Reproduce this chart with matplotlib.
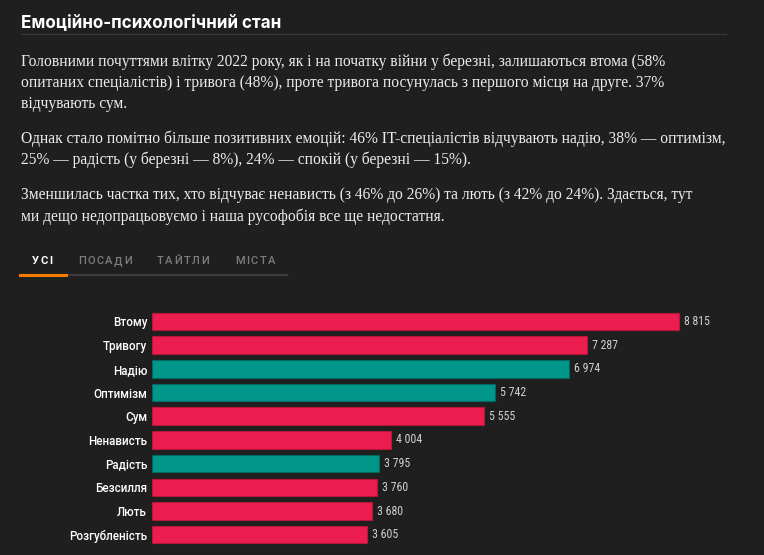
import matplotlib
matplotlib.use("Agg")
import matplotlib.pyplot as plt
from matplotlib.lines import Line2D

# Дані з графіка
categories = ["Втому", "Тривогу", "Надію", "Оптимізм", "Сум",
              "Ненависть", "Радість", "Безсилля", "Лють", "Розгубленість"]
values = [8815, 7287, 6974, 5742, 5555, 4004, 3795, 3760, 3680, 3605]
positive = [False, False, True, True, False, False, True, False, False, False]

title = "Емоційно-психологічний стан"
paragraphs = [
    ["Головними почуттями влітку 2022 року, як і на початку війни у березні, залишаються втома (58%",
     "опитаних спеціалістів) і тривога (48%), проте тривога посунулась з першого місця на друге. 37%",
     "відчувають сум."],
    ["Однак стало помітно більше позитивних емоцій: 46% IT-спеціалістів відчувають надію, 38% — оптимізм,",
     "25% — радість (у березні — 8%), 24% — спокій (у березні — 15%)."],
    ["Зменшилась частка тих, хто відчуває ненависть (з 46% до 26%) та лють (з 42% до 24%). Здається, тут",
     "ми дещо недопрацьовуємо і наша русофобія все ще недостатня."],
]
tabs = ["УСІ", "ПОСАДИ", "ТАЙТЛИ", "МІСТА"]

BG = "#1f1f1f"
RED = "#eb1e4f"
TEAL = "#00968a"
W, H = 764, 555

fig = plt.figure(figsize=(W / 100, H / 100), dpi=100, facecolor=BG)


def px(x, y):
    return x / W, 1 - y / H


# Заголовок і лінія під ним
fig.text(*px(21, 27), title, color="white", fontsize=12.3, fontweight="bold",
         family=["Inter", "DejaVu Sans"], va="baseline")
fig.add_artist(Line2D([21 / W, 726 / W], [1 - 33.5 / H] * 2, color="#3a3a3a", lw=0.8))

# Текст
baselines = [[66, 87, 108], [143, 164], [199, 221]]
for lines, ys in zip(paragraphs, baselines):
    for line, y in zip(lines, ys):
        fig.text(*px(21, y), line, color="#ececec", fontsize=11.2,
                 family=["Liberation Serif", "DejaVu Serif"], va="baseline")

# Вкладки з розрядкою
renderer = fig.canvas.get_renderer()


def spaced(x, y, s, spacing, **kw):
    for ch in s:
        t = fig.text(*px(x, y), ch, va="center", **kw)
        bb = t.get_window_extent(renderer)
        x += bb.width + spacing
    return x


tab_x = [32, 78, 157, 235]
for i, (name, x) in enumerate(zip(tabs, tab_x)):
    spaced(x, 261, name, 1.5, fontsize=8.0, family=["Roboto", "DejaVu Sans"],
           fontweight="bold" if i == 0 else "medium",
           color="white" if i == 0 else "#7d7d7d")
fig.add_artist(Line2D([20 / W, 287 / W], [1 - 274.5 / H] * 2, color="#3c3c3c", lw=1.5))
fig.add_artist(Line2D([20 / W, 66 / W], [1 - 274.5 / H] * 2, color="#f57c00", lw=2.2))

# Графік
ax_left, ax_right = 152, 152 + 0.05975 * 10000
ax_top, ax_bot = 321.5 - 11.85, 534.7 + 11.85
ax = fig.add_axes([ax_left / W, 1 - ax_bot / H, (ax_right - ax_left) / W, (ax_bot - ax_top) / H])
ax.set_facecolor(BG)
colors = [TEAL if p else RED for p in positive]
edges = ["#00695f" if p else "#b8153b" for p in positive]
ys = range(len(categories))
ax.barh(ys, values, height=0.74, color=colors, edgecolor=edges, linewidth=0.8)
ax.set_xlim(0, 10000)
ax.set_ylim(len(categories) - 0.5, -0.5)
ax.set_yticks(list(ys), categories, color="white", fontsize=8.4,
              family=["Roboto", "DejaVu Sans"], fontweight="medium")
ax.tick_params(axis="y", length=0, pad=3.6)
ax.set_xticks([])
for s in ax.spines.values():
    s.set_visible(False)
for y, v in zip(ys, values):
    ax.annotate(f"{v:,}".replace(",", " "), (v, y), xytext=(3.6, 0), textcoords="offset points",
                va="center", ha="left", color="#d0d0d0", fontsize=8.6,
                family=["Roboto Condensed", "Liberation Sans Narrow", "DejaVu Sans"],
                fontstretch="condensed")

fig.savefig("out.png", dpi=100, facecolor=BG)
